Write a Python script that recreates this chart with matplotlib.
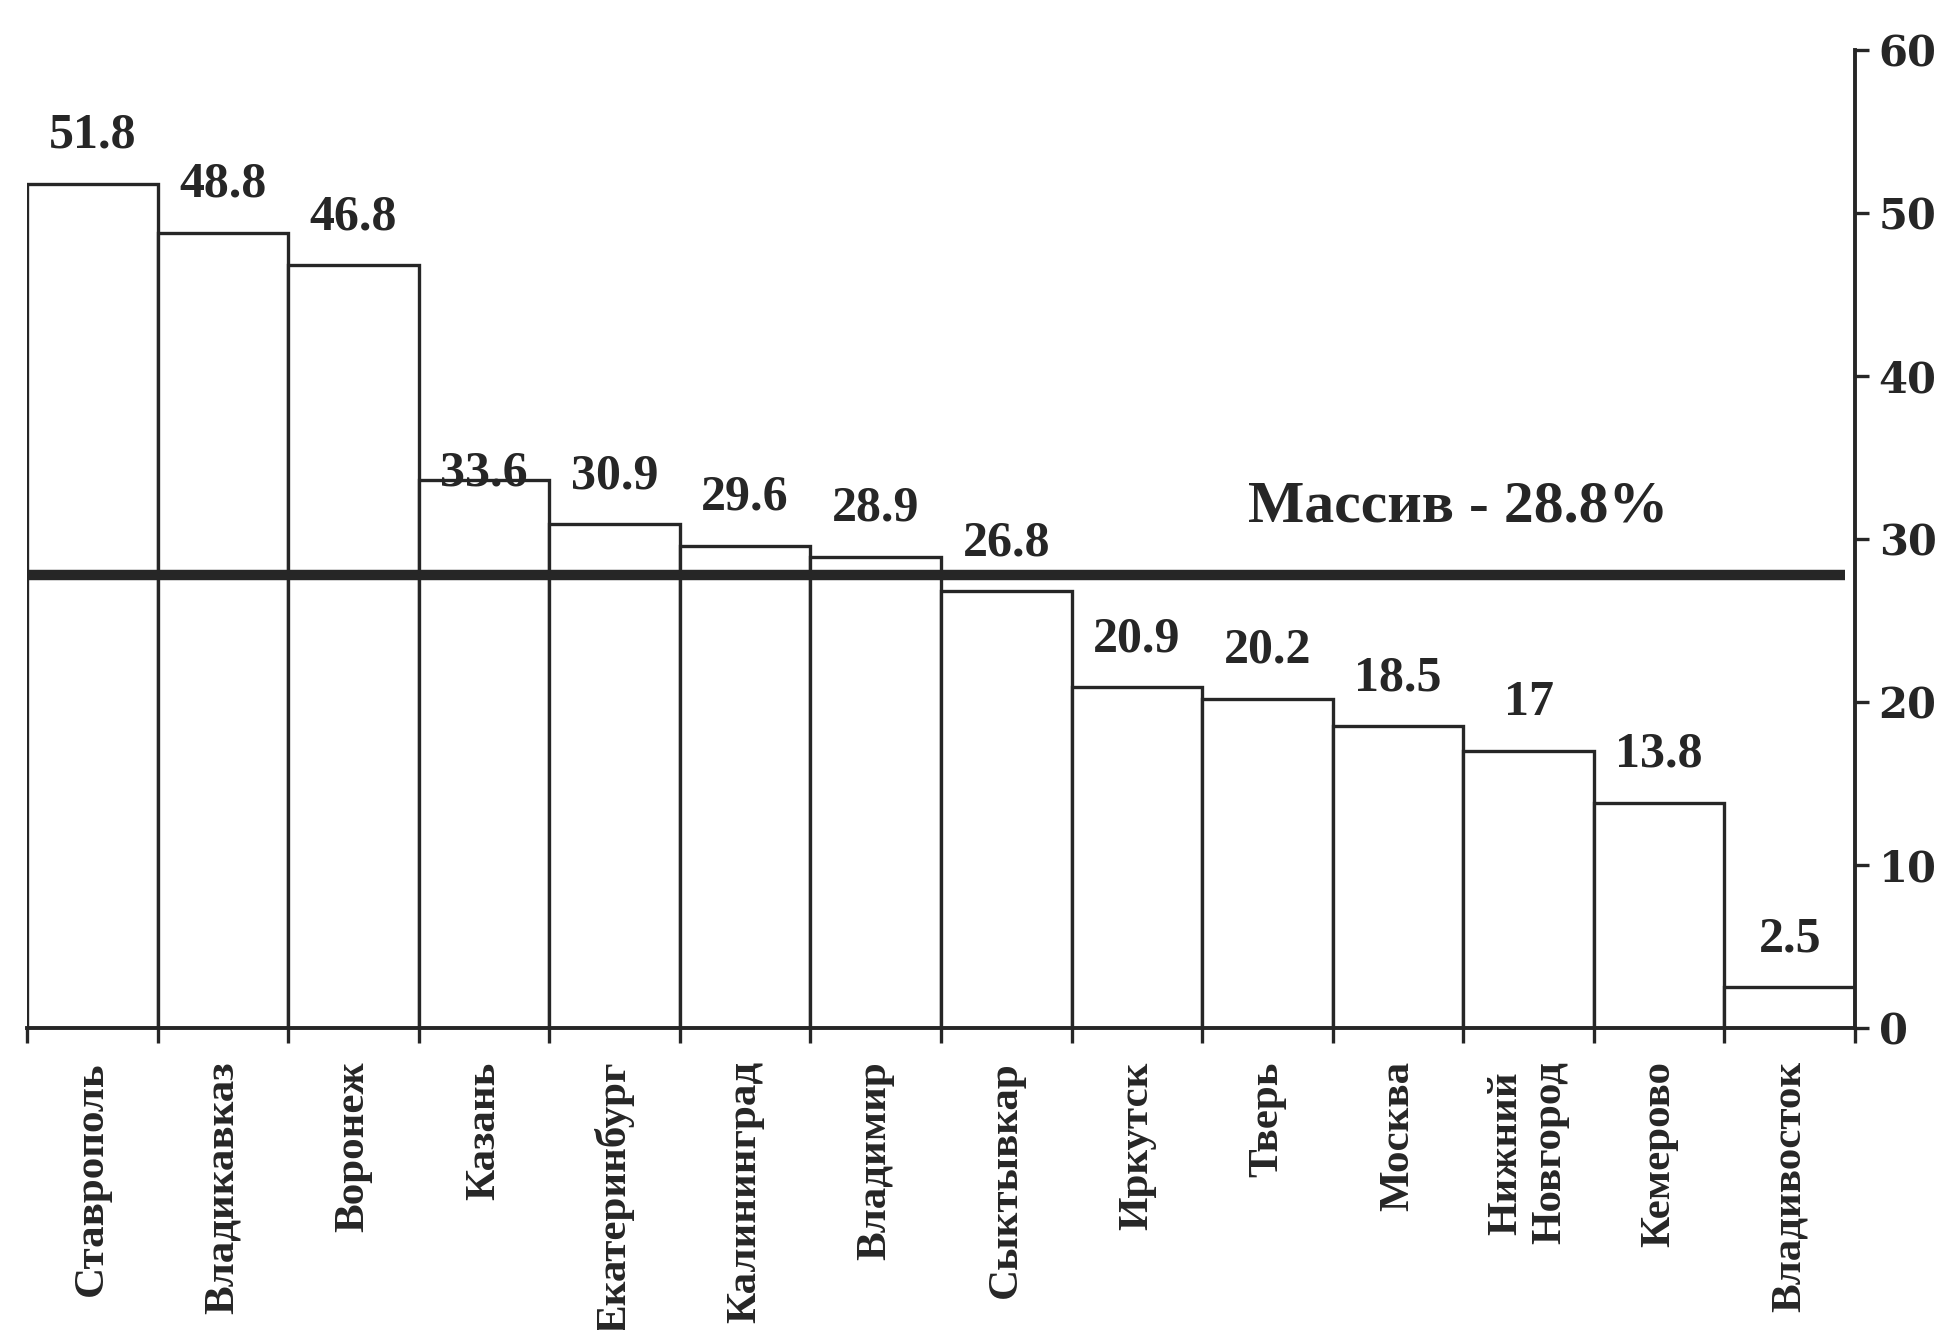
import matplotlib
matplotlib.use("Agg")
import matplotlib.pyplot as plt

# City names (x axis), values in percent
cities = ["Ставрополь", "Владикавказ", "Воронеж", "Казань", "Екатеринбург", "Калининград",
          "Владимир", "Сыктывкар", "Иркутск", "Тверь", "Москва", "Нижний\nНовгород",
          "Кемерово", "Владивосток"]
values = [51.8, 48.8, 46.8, 33.6, 30.9, 29.6, 28.9, 26.8, 20.9, 20.2, 18.5, 17, 13.8, 2.5]
value_labels = ["51.8", "48.8", "46.8", "33.6", "30.9", "29.6", "28.9", "26.8",
                "20.9", "20.2", "18.5", "17", "13.8", "2.5"]

# The overall line and its caption
overall_level = 27.8
overall_text = "Массив - 28.8%"

y_ticks = [0, 10, 20, 30, 40, 50, 60]

ink = "#262626"
plt.rcParams['font.family'] = ['Liberation Serif', 'DejaVu Serif']
plt.rcParams['font.weight'] = 'bold'

fig = plt.figure(figsize=(19.47, 13.30), dpi=100)
ax = fig.add_axes([27 / 1947, 302 / 1330, 1828 / 1947, 978 / 1330])

positions = list(range(len(cities)))
ax.bar(positions, values, width=1.0, color="white", edgecolor=ink, linewidth=2.4)

# Labels above the bars (the one for Kazan sits on the bar top in the original)
for i, (v, lab) in enumerate(zip(values, value_labels)):
    offset = -4 if lab == "33.6" else 26
    ax.annotate(lab, (i, v), xytext=(0, offset), textcoords="offset points",
                ha="center", va="baseline", fontsize=36, color=ink, fontweight="bold")

# Overall level line
ax.hlines(overall_level, -0.5, 13.42, color=ink, linewidth=7.5, zorder=5)
ax.text(8.85, 31.1, overall_text, ha="left", va="baseline", fontsize=43, color=ink,
        fontweight="bold")

ax.set_xlim(-0.5, len(cities) - 0.5)
ax.set_ylim(0, 60)

# Spines: only bottom and right
ax.spines["left"].set_visible(False)
ax.spines["top"].set_visible(False)
ax.spines["right"].set_linewidth(2.8)
ax.spines["bottom"].set_linewidth(2.8)
ax.spines["right"].set_color(ink)
ax.spines["bottom"].set_color(ink)

ax.yaxis.tick_right()
ax.set_yticks(y_ticks)
ax.set_yticklabels([str(t) for t in y_ticks], family="DejaVu Serif", fontweight="bold")
ax.tick_params(axis="y", direction="out", length=10, width=2.4, pad=7,
               labelsize=30, colors=ink)

# Major ticks on the bar boundaries, labels at the bar centres (minor ticks)
ax.set_xticks([p - 0.5 for p in positions] + [len(cities) - 0.5])
ax.set_xticklabels([])
ax.tick_params(axis="x", which="major", direction="out", length=11, width=2.4, colors=ink)
ax.set_xticks(positions, minor=True)
ax.set_xticklabels(cities, minor=True, rotation=90, fontsize=31, color=ink,
                   fontweight="bold")
ax.tick_params(axis="x", which="minor", length=0, pad=24)
for t in ax.get_xticklabels(minor=True):
    t.set_multialignment("center")

fig.savefig("out.png", dpi=100, facecolor="white")
